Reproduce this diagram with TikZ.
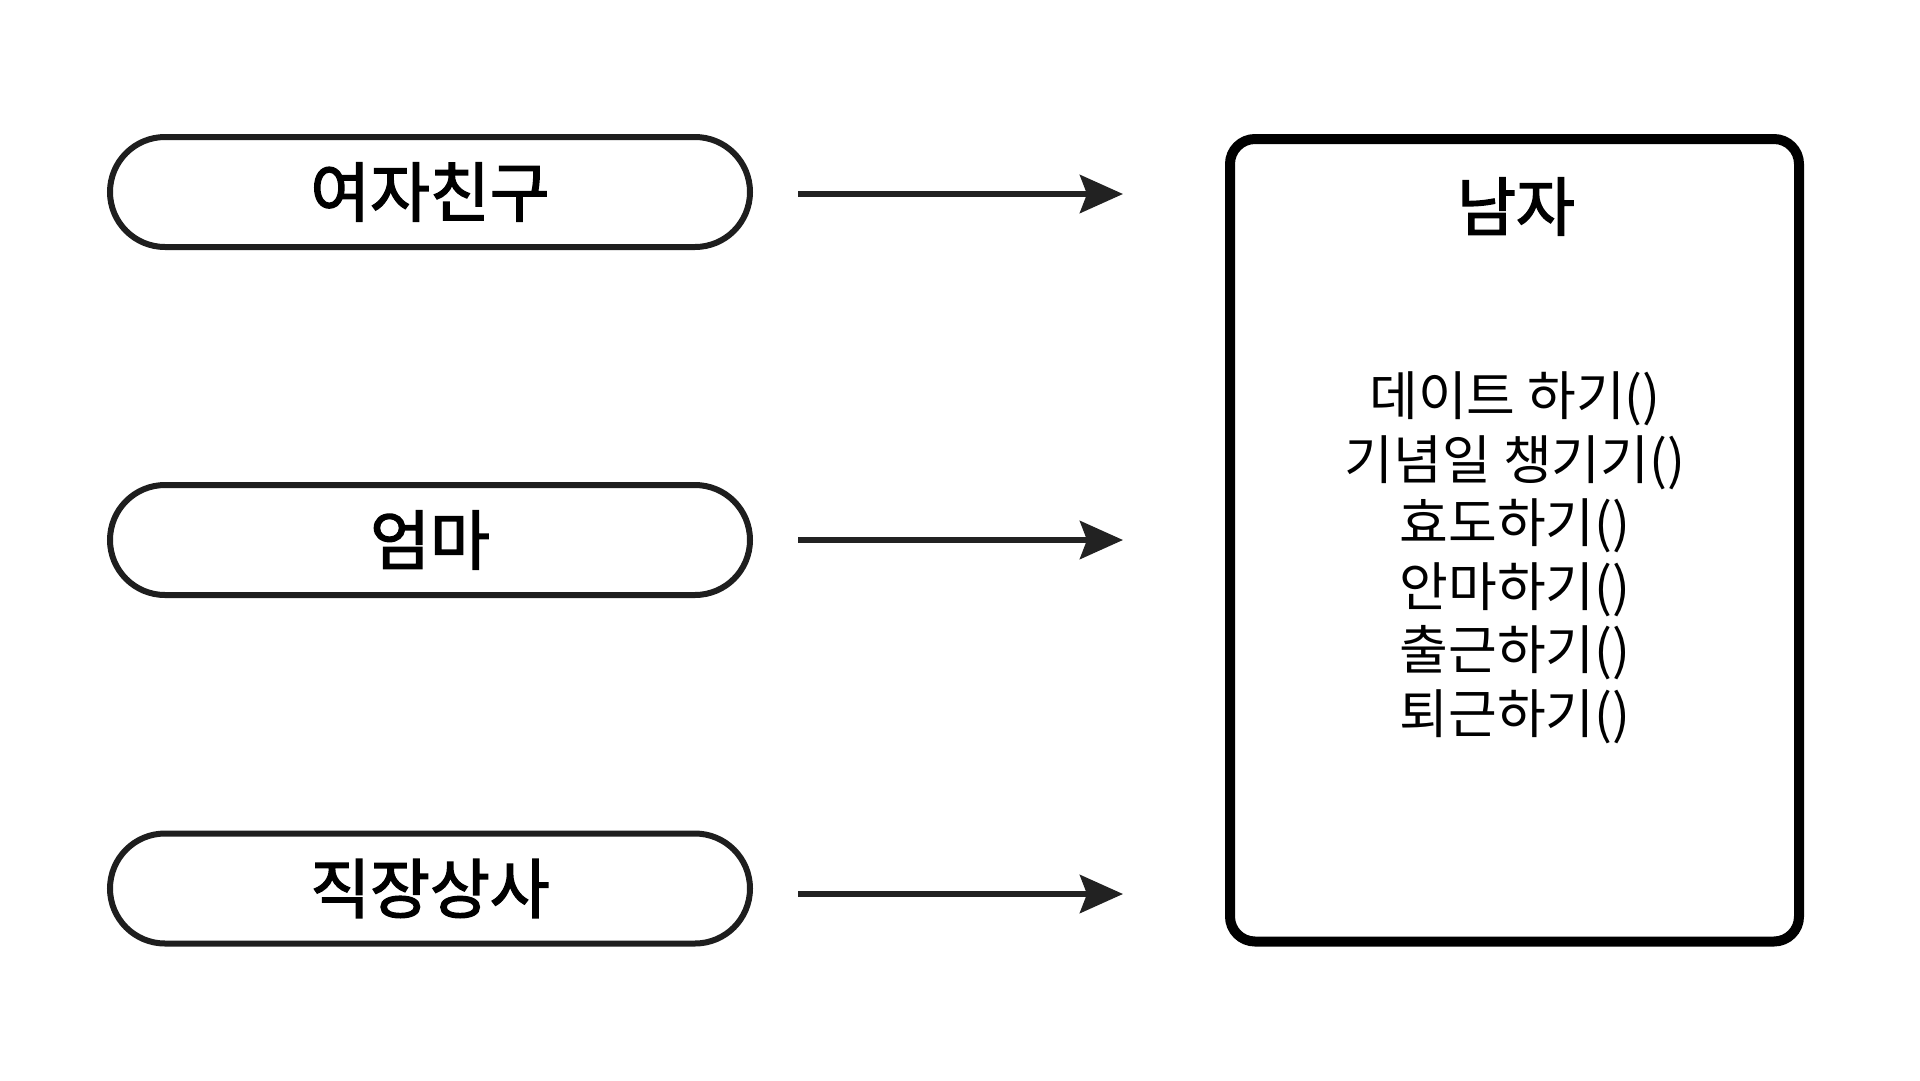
\documentclass[tikz,border=0pt]{standalone}
\usepackage{fontspec}
\newfontfamily\kr{Noto Sans CJK KR}
\newfontfamily\krm[FakeBold=2.2]{Noto Sans CJK KR}
\usetikzlibrary{arrows.meta,shapes.misc}
\definecolor{pillc}{HTML}{1E1E1E}
\definecolor{arrc}{HTML}{222222}
\begin{document}
\begin{tikzpicture}[x=1pt,y=-1pt,
  pill/.style={rounded rectangle, draw=pillc, line width=6pt,
    minimum width=640pt, minimum height=110pt, inner sep=0pt, outer sep=0pt,
    font=\krm\fontsize{65}{72}\selectfont},
  classbox/.style={rectangle, draw=black, line width=10pt, rounded corners=25pt,
    minimum width=569pt, minimum height=802.5pt, inner sep=0pt, outer sep=0pt},
  arr/.style={draw=arrc, line width=6pt,
    -{Stealth[length=43pt, width=38pt, inset=7pt]},
    shorten <=48pt, shorten >=107pt}]
\useasboundingbox[fill=white] (0,0) rectangle (1920,1080);

\node[pill] (p1) at (430,192) {여자친구};
\node[pill] (p2) at (430,540) {엄마};
\node[pill] (p3) at (430,888.5) {직장상사};

\node[classbox] (box) at (1514.5,540.25) {};
\node[font=\krm\fontsize{64}{72}\selectfont, inner sep=0pt] (title) at (1516,206.5) {남자};
\node[font=\kr\fontsize{53}{63.5}\selectfont, align=center, inner sep=0pt] (ops) at (1515,557.7)
  {데이트 하기()\\기념일 챙기기()\\효도하기()\\안마하기()\\출근하기()\\퇴근하기()};

\draw[arr] ([yshift=-2pt]p1.east) -- ([yshift=-2pt]p1.east -| box.west);
\draw[arr] (p2.east) -- (p2.east -| box.west);
\draw[arr] ([yshift=-5.5pt]p3.east) -- ([yshift=-5.5pt]p3.east -| box.west);
\end{tikzpicture}
\end{document}
